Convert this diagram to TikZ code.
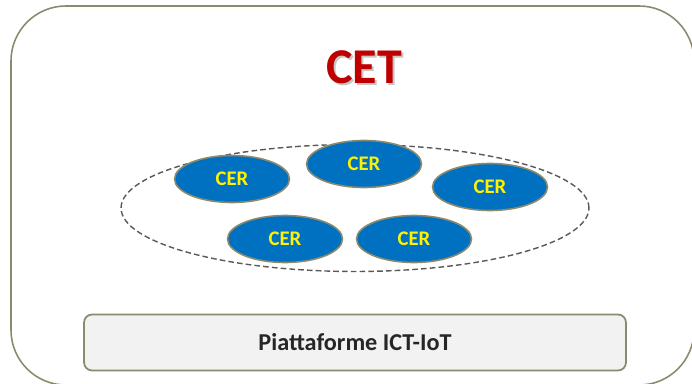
\documentclass[tikz,border=0pt]{standalone}
\usepackage{fontspec}
\setmainfont{Carlito}
\usetikzlibrary{shapes.geometric}
\definecolor{cetred}{HTML}{C00000}
\definecolor{cerblue}{HTML}{0070C0}
\definecolor{olivegray}{HTML}{8C8A6E}
\definecolor{boxgray}{HTML}{F2F2F2}
\definecolor{dashgray}{HTML}{595959}
\definecolor{textgray}{HTML}{262626}

\begin{document}
\begin{tikzpicture}[x = 0.02cm, y = -0.02cm,
  cer/.style = {ellipse, draw = olivegray, line width = 0.9pt, fill = cerblue,
    minimum width = 2.3cm, minimum height = 0.94cm, inner sep = 0pt,
    text = yellow, font = \bfseries\fontsize{11.8}{13}\selectfont},
  cettext/.style = {font = \bfseries\fontsize{28.5}{32}\selectfont}]

\useasboundingbox (0,0) rectangle (692,384);

% outer frame
\draw[olivegray, line width = 0.9pt, rounded corners = 1.1cm] (11,6) rectangle (694,385);

% title with its shadow
\node[cettext, text = gray!45] (cetshadow) at (366,69) {CET};
\node[cettext, text = cetred] (cet) at (364,67) {CET};

% community boundary
\draw[dashgray, dashed, dash pattern = on 3.2pt off 1.8pt, line width = 0.8pt]
  (355,208) ellipse [x radius = 4.68cm, y radius = 1.27cm];

% the five CER
\foreach \n/\x/\y in {1/232/179, 2/364/164, 3/490/187, 4/285/239, 5/414/239}
  {\node[cer] (cer\n) at (\x,\y) {CER};}

% platform bar
\node[draw = olivegray, line width = 1pt, fill = boxgray, rounded corners = 0.16cm,
  minimum width = 10.84cm, minimum height = 1.12cm, text = textgray,
  font = \bfseries\fontsize{13.8}{16}\selectfont] (ict) at (355,342.5) {Piattaforme ICT-IoT};

\end{tikzpicture}
\end{document}
